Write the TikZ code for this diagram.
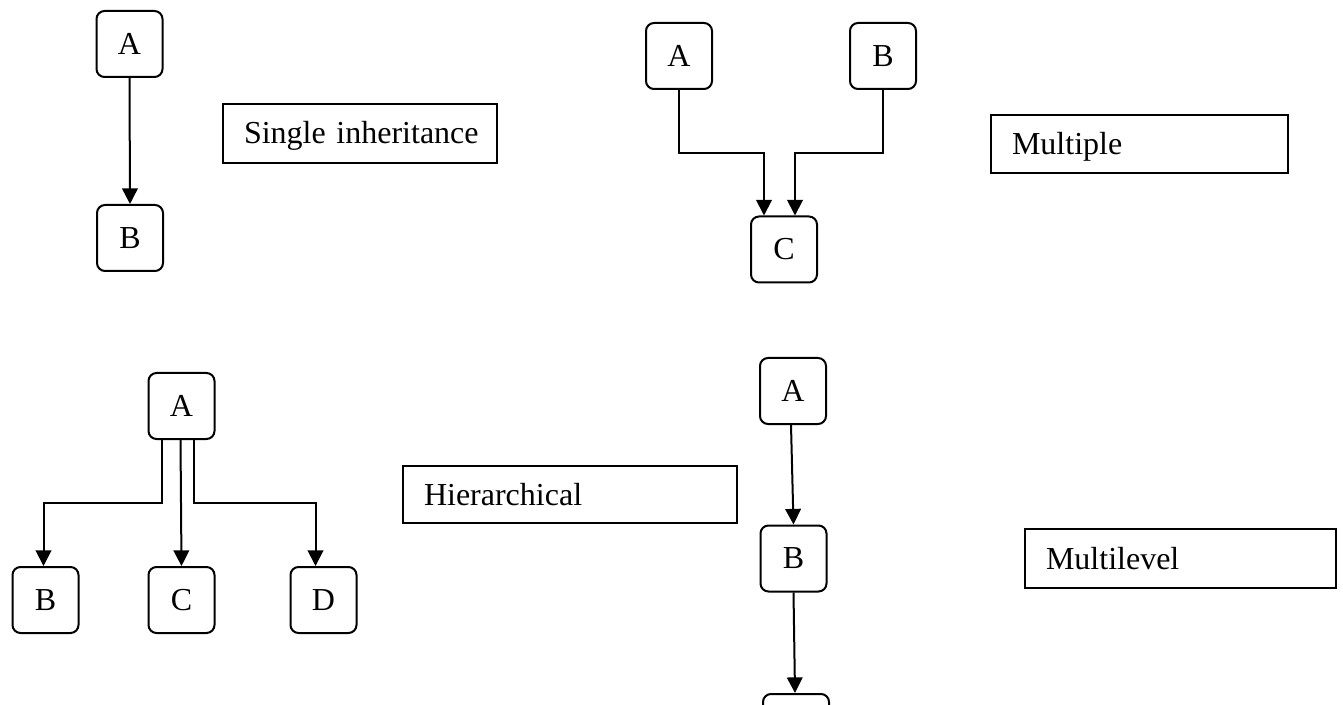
\documentclass[tikz,border=0pt]{standalone}
\usepackage{fontspec}
\setmainfont{Liberation Serif}
\usetikzlibrary{arrows.meta, calc}

\begin{document}
\begin{tikzpicture}[x=0.5pt, y=-0.5pt,
    cls/.style={draw, line width=1pt, rounded corners=4pt, minimum size=33pt, inner sep=0pt, font=\fontsize{16}{19}\selectfont},
    kind/.style={draw, line width=1pt, anchor=north west, align=left, inner xsep=10.5pt, text height=13pt, text depth=2.5pt, font=\fontsize{16}{19}\selectfont},
    inh/.style={-{Triangle[length=7.8pt, width=7.8pt]}, line width=1pt}]
  \useasboundingbox (0,0) rectangle (1343,705);

  % single
  \node[cls] (sA) at (129.5,44) {A};
  \node[cls] (sB) at (130,238) {B};
  \node[kind, text width=116pt, minimum height=29.5pt] (single) at (222,103) {\mbox{Single inheritance}};
  \draw[inh] (sA.south) -- (sB.north);

  % multiple
  \node[cls] (mA) at (679,56) {A};
  \node[cls] (mB) at (883,56) {B};
  \node[cls] (mC) at (784,249.5) {C};
  \node[kind, text width=127.5pt, minimum height=29pt] (multiple) at (990,114) {Multiple};
  \draw[inh] (mA.south) |- ($(mA.south)!.5!([xshift=-10pt]mC.north)$) -| ([xshift=-10pt]mC.north);
  \draw[inh] (mB.south) |- ($(mB.south)!.5!([xshift=5.5pt]mC.north)$) -| ([xshift=5.5pt]mC.north);

  % hierarchical
  \node[cls] (hA) at (181.5,406) {A};
  \node[cls] (hB) at (45.5,600) {B};
  \node[cls] (hC) at (181.5,600) {C};
  \node[cls] (hD) at (323.5,600) {D};
  \node[kind, text width=146pt, minimum height=28.5pt] (hier) at (402,465) {Hierarchical};
  \draw[inh] ([xshift=-10pt]hA.south) |- ($([xshift=-10pt]hA.south)!.5!([xshift=-1pt]hB.north)$) -| ([xshift=-1pt]hB.north);
  \draw[inh] ([xshift=-0.5pt]hA.south) -- (hC.north);
  \draw[inh] ([xshift=6pt]hA.south) |- ($([xshift=6pt]hA.south)!.5!([xshift=-4pt]hD.north)$) -| ([xshift=-4pt]hD.north);

  % multilevel
  \node[cls] (lA) at (793,391) {A};
  \node[cls] (lB) at (793.5,558.5) {B};
  \node[cls] (lC) at (796,727) {};
  \node[kind, text width=134.5pt, minimum height=29.5pt] (multilevel) at (1024,528) {Multilevel};
  \draw[inh] ([xshift=-1pt]lA.south) -- (lB.north);
  \draw[inh] (lB.south) -- ([xshift=-0.5pt]lC.north);
\end{tikzpicture}
\end{document}
